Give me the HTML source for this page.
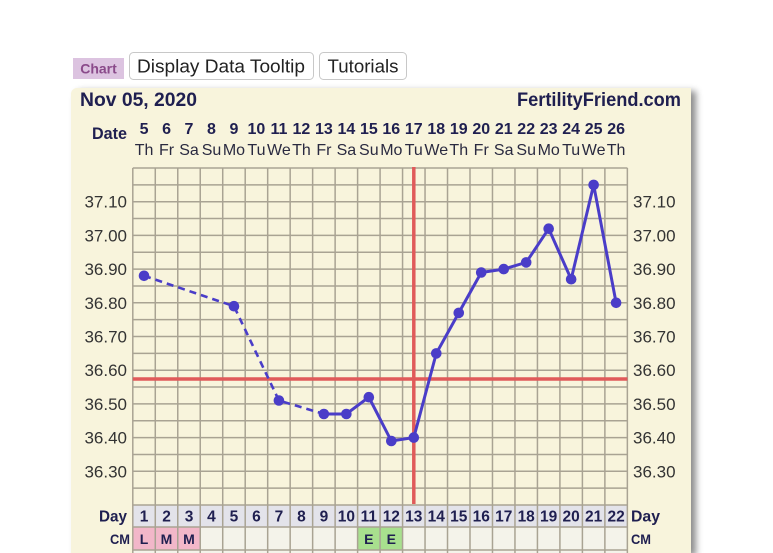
<!DOCTYPE html>
<html><head><meta charset="utf-8">
<style>
html,body{margin:0;padding:0;background:#fff;width:773px;height:553px;overflow:hidden;position:relative;}
#wrap{position:absolute;left:0;top:0;width:773px;height:553px;overflow:hidden;}
#panel{position:absolute;left:71px;top:88px;width:620px;height:465px;background:#f8f4dc;border-radius:6px 0 0 0;box-shadow:5px 3px 7px rgba(0,0,0,0.45);}
svg{position:absolute;left:0;top:0;}
</style></head>
<body>
<div id="wrap">
<div id="panel"></div>
<svg width="773" height="553" viewBox="0 0 773 553" xmlns="http://www.w3.org/2000/svg" font-family="Liberation Sans, Arial, sans-serif">
<!-- top buttons -->
<rect x="73" y="58" width="51" height="21" fill="#dcc3e0"/>
<text x="98.5" y="73.5" text-anchor="middle" font-size="14" font-weight="bold" fill="#8a4a8a">Chart</text>
<rect x="129.5" y="52.5" width="184" height="27" rx="4" fill="#fff" stroke="#c8c8c8"/>
<text x="137" y="72.5" font-size="18.5" fill="#222" textLength="168" lengthAdjust="spacingAndGlyphs">Display Data Tooltip</text>
<rect x="319.5" y="52.5" width="87" height="27" rx="4" fill="#fff" stroke="#c8c8c8"/>
<text x="327.5" y="72.5" font-size="18.5" fill="#222" textLength="71" lengthAdjust="spacingAndGlyphs">Tutorials</text>

<!-- header -->
<text x="80" y="106" font-size="19.5" font-weight="bold" fill="#1f1f50" textLength="117" lengthAdjust="spacingAndGlyphs">Nov 05, 2020</text>
<text x="517" y="106" font-size="19.5" font-weight="bold" fill="#1f1f50" textLength="164" lengthAdjust="spacingAndGlyphs">FertilityFriend.com</text>
<text x="92" y="139" font-size="17" font-weight="bold" fill="#1f1f50" textLength="35" lengthAdjust="spacingAndGlyphs">Date</text>

<g font-size="16" font-weight="bold" fill="#1f1f50" text-anchor="middle">
<text x="144.04" y="134">5</text><text x="166.52" y="134">6</text><text x="189" y="134">7</text><text x="211.48" y="134">8</text><text x="233.96" y="134">9</text><text x="256.44" y="134">10</text><text x="278.92" y="134">11</text><text x="301.4" y="134">12</text><text x="323.88" y="134">13</text><text x="346.36" y="134">14</text><text x="368.84" y="134">15</text><text x="391.32" y="134">16</text><text x="413.8" y="134">17</text><text x="436.28" y="134">18</text><text x="458.76" y="134">19</text><text x="481.24" y="134">20</text><text x="503.72" y="134">21</text><text x="526.2" y="134">22</text><text x="548.68" y="134">23</text><text x="571.16" y="134">24</text><text x="593.64" y="134">25</text><text x="616.12" y="134">26</text>
</g>
<g font-size="16" fill="#2a2a40" text-anchor="middle">
<text x="144.04" y="155">Th</text><text x="166.52" y="155">Fr</text><text x="189" y="155">Sa</text><text x="211.48" y="155">Su</text><text x="233.96" y="155">Mo</text><text x="256.44" y="155">Tu</text><text x="278.92" y="155">We</text><text x="301.4" y="155">Th</text><text x="323.88" y="155">Fr</text><text x="346.36" y="155">Sa</text><text x="368.84" y="155">Su</text><text x="391.32" y="155">Mo</text><text x="413.8" y="155">Tu</text><text x="436.28" y="155">We</text><text x="458.76" y="155">Th</text><text x="481.24" y="155">Fr</text><text x="503.72" y="155">Sa</text><text x="526.2" y="155">Su</text><text x="548.68" y="155">Mo</text><text x="571.16" y="155">Tu</text><text x="593.64" y="155">We</text><text x="616.12" y="155">Th</text>
</g>

<!-- day / cm row backgrounds -->
<rect x="132.8" y="505" width="494.6" height="22" fill="#e3e3ea"/>
<rect x="132.8" y="527" width="494.6" height="26" fill="#f4f3ea"/>
<rect x="132.8" y="527" width="67.44" height="23" fill="#f2b7c9"/>
<rect x="357.6" y="527" width="44.96" height="23" fill="#a8e08e"/>

<!-- grid -->
<g stroke="#a9a393" stroke-width="1.5" fill="none">
<path d="M132.8 168V553M155.28 168V553M177.76 168V553M200.24 168V553M222.72 168V553M245.2 168V553M267.68 168V553M290.16 168V553M312.64 168V553M335.12 168V553M357.6 168V553M380.08 168V553M402.56 168V553M425.04 168V553M447.52 168V553M470 168V553M492.48 168V553M514.96 168V553M537.44 168V553M559.92 168V553M582.4 168V553M604.88 168V553M627.36 168V553"/>
<path d="M132.8 168H627.4M132.8 184.85H627.4M132.8 201.7H627.4M132.8 218.55H627.4M132.8 235.4H627.4M132.8 252.25H627.4M132.8 269.1H627.4M132.8 285.95H627.4M132.8 302.8H627.4M132.8 319.65H627.4M132.8 336.5H627.4M132.8 353.35H627.4M132.8 370.2H627.4M132.8 387.05H627.4M132.8 403.9H627.4M132.8 420.75H627.4M132.8 437.6H627.4M132.8 454.45H627.4M132.8 471.3H627.4M132.8 488.15H627.4M132.8 505H627.4M132.8 527H627.4M132.8 550H627.4"/>
</g>

<!-- y labels -->
<g font-size="17" fill="#333" text-anchor="end">
<text x="127" y="207.7">37.10</text><text x="127" y="241.4">37.00</text><text x="127" y="275.1">36.90</text><text x="127" y="308.8">36.80</text><text x="127" y="342.5">36.70</text><text x="127" y="376.2">36.60</text><text x="127" y="409.9">36.50</text><text x="127" y="443.6">36.40</text><text x="127" y="477.3">36.30</text>
</g>
<g font-size="17" fill="#333">
<text x="633" y="207.7">37.10</text><text x="633" y="241.4">37.00</text><text x="633" y="275.1">36.90</text><text x="633" y="308.8">36.80</text><text x="633" y="342.5">36.70</text><text x="633" y="376.2">36.60</text><text x="633" y="409.9">36.50</text><text x="633" y="443.6">36.40</text><text x="633" y="477.3">36.30</text>
</g>

<!-- red lines -->
<line x1="132.8" y1="379" x2="627.4" y2="379" stroke="#e05a5a" stroke-width="3.5"/>
<line x1="413.8" y1="167" x2="413.8" y2="504" stroke="#e05a5a" stroke-width="3.5"/>

<!-- temperature series -->
<g stroke="#4a3dc8" stroke-width="2.6" fill="none">
<polyline points="144.04,275.8 233.96,306.2 278.92,400.5 323.88,414" stroke-dasharray="7,5"/>
<polyline points="323.88,414 346.36,414 368.84,397.2 391.32,441 413.8,437.6 436.28,353.4 458.76,312.9 481.24,272.5 503.72,269.1 526.2,262.4 548.68,228.7 571.16,279.2 593.64,184.9 616.12,302.8" stroke-width="3"/>
</g>
<g fill="#4a3dc8">
<circle cx="144.04" cy="275.8" r="5.3"/><circle cx="233.96" cy="306.2" r="5.3"/><circle cx="278.92" cy="400.5" r="5.3"/><circle cx="323.88" cy="414" r="5.3"/><circle cx="346.36" cy="414" r="5.3"/><circle cx="368.84" cy="397.2" r="5.3"/><circle cx="391.32" cy="441" r="5.3"/><circle cx="413.8" cy="437.6" r="5.3"/><circle cx="436.28" cy="353.4" r="5.3"/><circle cx="458.76" cy="312.9" r="5.3"/><circle cx="481.24" cy="272.5" r="5.3"/><circle cx="503.72" cy="269.1" r="5.3"/><circle cx="526.2" cy="262.4" r="5.3"/><circle cx="548.68" cy="228.7" r="5.3"/><circle cx="571.16" cy="279.2" r="5.3"/><circle cx="593.64" cy="184.9" r="5.3"/><circle cx="616.12" cy="302.8" r="5.3"/>
</g>

<!-- day row -->
<text x="99" y="521.5" font-size="16" font-weight="bold" fill="#1f1f50" textLength="28" lengthAdjust="spacingAndGlyphs">Day</text>
<text x="631" y="521.5" font-size="16" font-weight="bold" fill="#1f1f50" textLength="29" lengthAdjust="spacingAndGlyphs">Day</text>
<g font-size="15.5" font-weight="bold" fill="#1f1f50" text-anchor="middle">
<text x="144.04" y="521.5">1</text><text x="166.52" y="521.5">2</text><text x="189" y="521.5">3</text><text x="211.48" y="521.5">4</text><text x="233.96" y="521.5">5</text><text x="256.44" y="521.5">6</text><text x="278.92" y="521.5">7</text><text x="301.4" y="521.5">8</text><text x="323.88" y="521.5">9</text><text x="346.36" y="521.5">10</text><text x="368.84" y="521.5">11</text><text x="391.32" y="521.5">12</text><text x="413.8" y="521.5">13</text><text x="436.28" y="521.5">14</text><text x="458.76" y="521.5">15</text><text x="481.24" y="521.5">16</text><text x="503.72" y="521.5">17</text><text x="526.2" y="521.5">18</text><text x="548.68" y="521.5">19</text><text x="571.16" y="521.5">20</text><text x="593.64" y="521.5">21</text><text x="616.12" y="521.5">22</text>
</g>
<!-- CM row -->
<text x="110" y="544" font-size="14" font-weight="bold" fill="#1f1f50" textLength="20" lengthAdjust="spacingAndGlyphs">CM</text>
<text x="631" y="544" font-size="14" font-weight="bold" fill="#1f1f50" textLength="20" lengthAdjust="spacingAndGlyphs">CM</text>
<g font-size="14" font-weight="bold" fill="#1f1f50" text-anchor="middle">
<text x="144.04" y="544">L</text><text x="166.52" y="544">M</text><text x="189" y="544">M</text><text x="368.84" y="544">E</text><text x="391.32" y="544">E</text>
</g>
</svg>
</div>
</body></html>
